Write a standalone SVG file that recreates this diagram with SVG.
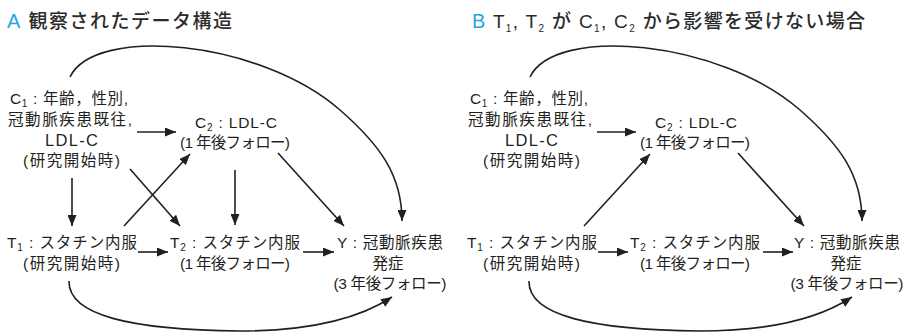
<svg xmlns="http://www.w3.org/2000/svg" width="905" height="333" viewBox="0 0 905 333">
<style>
text{font-family:"Liberation Sans","Noto Sans CJK JP",sans-serif;fill:#231f20}
.t{font-size:15.5px;text-anchor:middle}
.h{font-size:19px;font-weight:500;fill:#2b2b2b}
.lab{fill:#1fa6df;font-size:20px}
.sub{font-size:10px}
.ldl{font-size:16.5px}
.c{fill:none;stroke:#231f20;stroke-width:1.6}
</style>
<defs>
<marker id="ah" markerUnits="userSpaceOnUse" markerWidth="11" markerHeight="9" refX="11" refY="4.5" orient="auto">
<path d="M0,0 L11,4.5 L0,9 z" fill="#231f20"/>
</marker>
</defs>
<rect width="905" height="333" fill="#fff"/>
<text class="h" x="7" y="28" textLength="225" lengthAdjust="spacing"><tspan class="lab">A</tspan> 観察されたデータ構造</text>
<text class="h" x="472" y="28" textLength="393" lengthAdjust="spacing"><tspan class="lab">B</tspan> T<tspan class="sub" dy="4">1</tspan><tspan dy="-4">, T</tspan><tspan class="sub" dy="4">2</tspan><tspan dy="-4"> が C</tspan><tspan class="sub" dy="4">1</tspan><tspan dy="-4">, C</tspan><tspan class="sub" dy="4">2</tspan><tspan dy="-4"> から影響を受けない場合</tspan></text>

<g id="panelA">
<g id="A-C1"><text class="t" x="69" y="104" textLength="118">C<tspan class="sub" dy="3">1</tspan><tspan dy="-3"> : 年齢，性別,</tspan></text><text class="t" x="70" y="124.5" textLength="124">冠動脈疾患既往,</text><text class="t ldl" x="71.5" y="145.5" textLength="53">LDL-C</text><text class="t" x="71.5" y="165.5" textLength="97">(研究開始時)</text></g>
<g id="A-C2"><text class="t" x="236" y="128" textLength="82">C<tspan class="sub" dy="3">2</tspan><tspan dy="-3"> : LDL-C</tspan></text><text class="t" x="235" y="148" textLength="110">(1 年後フォロー)</text></g>
<g id="A-T1"><text class="t" x="72" y="248" textLength="130">T<tspan class="sub" dy="3">1</tspan><tspan dy="-3"> : スタチン内服</tspan></text><text class="t" x="71.5" y="268.5" textLength="97">(研究開始時)</text></g>
<g id="A-T2"><text class="t" x="235" y="248" textLength="130">T<tspan class="sub" dy="3">2</tspan><tspan dy="-3"> : スタチン内服</tspan></text><text class="t" x="235" y="268.5" textLength="110">(1 年後フォロー)</text></g>
<g id="A-Y"><text class="t" x="390" y="248" textLength="106">Y : 冠動脈疾患</text><text class="t" x="388" y="268.5">発症</text><text class="t" x="390" y="289" textLength="113">(3 年後フォロー)</text></g>
<g id="A-connectors">
<path class="c" marker-end="url(#ah)" d="M137,132 L176,132"/>
<path class="c" marker-end="url(#ah)" d="M72,178 L72,226"/>
<path class="c" marker-end="url(#ah)" d="M130,169 L180,226"/>
<path class="c" marker-end="url(#ah)" d="M124,226 L190,154"/>
<path class="c" marker-end="url(#ah)" d="M235,170 L235,225"/>
<path class="c" marker-end="url(#ah)" d="M278,153 L344,226"/>
<path class="c" marker-end="url(#ah)" d="M138,252 L168,252"/>
<path class="c" marker-end="url(#ah)" d="M303,252 L334,252"/>
<path class="c" marker-end="url(#ah)" d="M70,77 C95,25 260,40 340,110 C380,145 402,175 402,221"/>
<path class="c" marker-end="url(#ah)" d="M69,281 C68,315 130,330 240,331 C310,331 360,318 392,297"/>
</g>
</g>

<g id="panelB" transform="translate(460,0)">
<g id="B-C1"><text class="t" x="69" y="104" textLength="118">C<tspan class="sub" dy="3">1</tspan><tspan dy="-3"> : 年齢，性別,</tspan></text><text class="t" x="70" y="124.5" textLength="124">冠動脈疾患既往,</text><text class="t ldl" x="71.5" y="145.5" textLength="53">LDL-C</text><text class="t" x="71.5" y="165.5" textLength="97">(研究開始時)</text></g>
<g id="B-C2"><text class="t" x="236" y="128" textLength="82">C<tspan class="sub" dy="3">2</tspan><tspan dy="-3"> : LDL-C</tspan></text><text class="t" x="235" y="148" textLength="110">(1 年後フォロー)</text></g>
<g id="B-T1"><text class="t" x="72" y="248" textLength="130">T<tspan class="sub" dy="3">1</tspan><tspan dy="-3"> : スタチン内服</tspan></text><text class="t" x="71.5" y="268.5" textLength="97">(研究開始時)</text></g>
<g id="B-T2"><text class="t" x="235" y="248" textLength="130">T<tspan class="sub" dy="3">2</tspan><tspan dy="-3"> : スタチン内服</tspan></text><text class="t" x="235" y="268.5" textLength="110">(1 年後フォロー)</text></g>
<g id="B-Y"><text class="t" x="387" y="248" textLength="106">Y : 冠動脈疾患</text><text class="t" x="386" y="268.5">発症</text><text class="t" x="387" y="289" textLength="113">(3 年後フォロー)</text></g>
<g id="B-connectors">
<path class="c" marker-end="url(#ah)" d="M137,132 L176,132"/>
<path class="c" marker-end="url(#ah)" d="M124,226 L190,154"/>
<path class="c" marker-end="url(#ah)" d="M278,153 L344,226"/>
<path class="c" marker-end="url(#ah)" d="M138,252 L168,252"/>
<path class="c" marker-end="url(#ah)" d="M303,252 L333,252"/>
<path class="c" marker-end="url(#ah)" d="M70,77 C95,25 260,40 340,110 C380,145 402,175 402,221"/>
<path class="c" marker-end="url(#ah)" d="M69,281 C68,315 130,330 240,331 C310,331 360,318 392,297"/>
</g>
</g>
</svg>
